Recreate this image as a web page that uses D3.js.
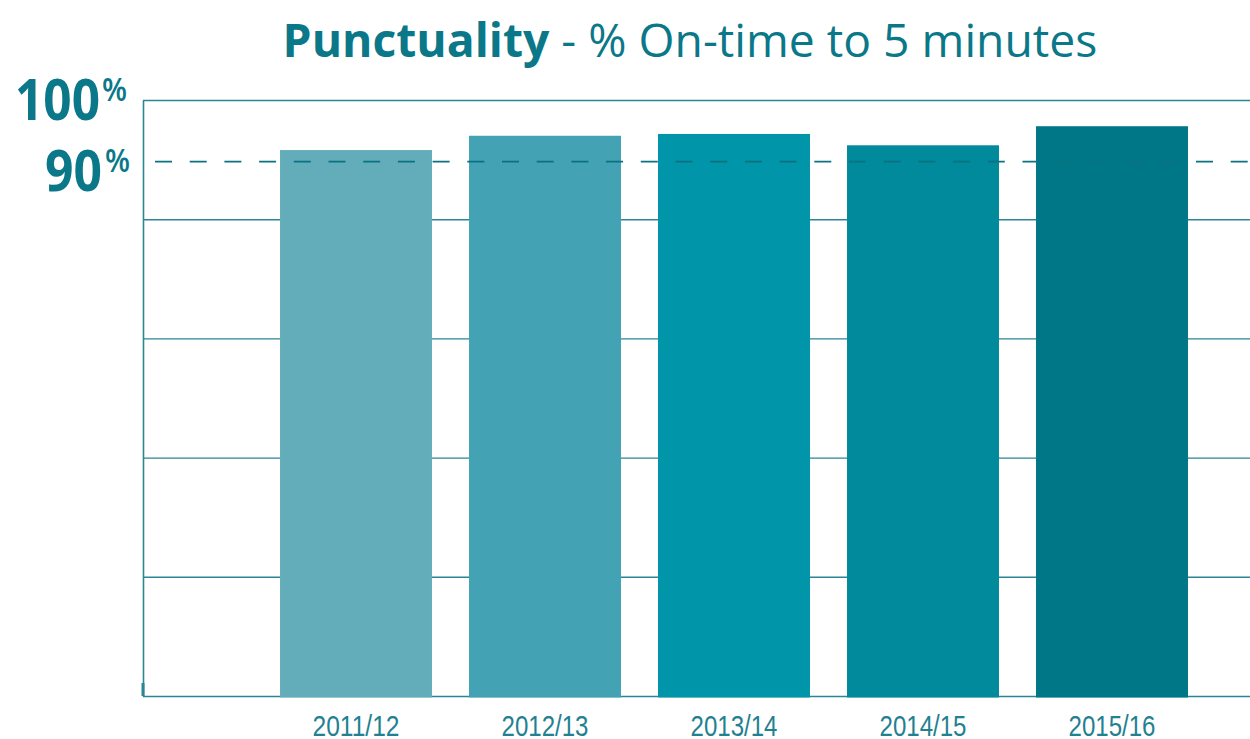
<!DOCTYPE html>
<html>
<head>
<meta charset="utf-8">
<script src="https://cdn.jsdelivr.net/npm/d3@7"></script>
<style>
  body { margin: 0; background: #fff; }
  svg { display: block; }
</style>
</head>
<body>
<div id="chart"></div>
<script>
const years = ['2011/12', '2012/13', '2013/14', '2014/15', '2015/16']
const punctuality = [91.6, 94.0, 94.3, 92.4, 95.6]
const barColors = ['#63adbb', '#43a2b3', '#0095a8', '#008a9b', '#007787']
const gridTicks = [0, 20, 40, 60, 80, 100]
const yLabels = [100, 90]
const targetLine = 90

const width = 1250
const height = 739
const teal = '#0a7888'

const svg = d3.select('#chart').append('svg').attr('width', width).attr('height', height)

// title, bold first word
const title = svg
  .append('text')
  .attr('x', 690)
  .attr('y', 57)
  .attr('text-anchor', 'middle')
  .attr('fill', teal)
  .style('font-family', '"Open Sans", sans-serif')
  .style('font-size', '46px')
title.append('tspan').style('font-weight', 'bold').text('Punctuality')
title.append('tspan').text(' - % On-time to 5 minutes')
// fit to reference width
const tw = title.node().getComputedTextLength()
title.style('font-size', 46 * (815 / tw) + 'px')

const margin = { left: 143 }
const g = svg.append('g').attr('transform', `translate(${margin.left},0)`)

const y = d3.scaleLinear().domain([0, 100]).range([696, 100])
const x = d3
  .scaleBand()
  .domain(years)
  .range([261.5 - margin.left, 1206.5 - margin.left])
  .paddingInner(0.196)
  .paddingOuter(0.098)

// gridlines + left axis
const yAxis = g
  .append('g')
  .call(
    d3
      .axisLeft(y)
      .tickValues(gridTicks)
      .tickSize(-(width - margin.left))
      .tickSizeOuter(0)
      .tickFormat(''),
  )
yAxis.selectAll('.tick line').attr('stroke', '#2b8595').attr('stroke-width', 1.4)
yAxis.select('.domain').attr('stroke', '#2b8595').attr('stroke-width', 1.6)

// small notch at bottom-left
g.append('line')
  .attr('x1', 0)
  .attr('x2', 0)
  .attr('y1', y(0) - 13)
  .attr('y2', y(0))
  .attr('stroke', '#2b8595')
  .attr('stroke-width', 3)

// bars
g.selectAll('.bar')
  .data(punctuality)
  .join('rect')
  .attr('class', 'bar')
  .attr('x', (d, i) => x(years[i]))
  .attr('width', x.bandwidth())
  .attr('y', (d) => y(d))
  .attr('height', (d) => y(0) + 1.5 - y(d))
  .attr('fill', (d, i) => barColors[i])

// 90% dashed target line
g.append('line')
  .attr('x1', 0)
  .attr('x2', width - margin.left)
  .attr('y1', y(targetLine) + 2)
  .attr('y2', y(targetLine) + 2)
  .attr('stroke', '#0b7281')
  .attr('stroke-width', 1.6)
  .attr('stroke-dasharray', '17 17.7')
  .attr('stroke-dashoffset', -12)

// x labels (narrow look)
const xAxis = g
  .append('g')
  .attr('transform', `translate(0,${y(0)})`)
  .call(d3.axisBottom(x).tickSize(0).tickPadding(0))
xAxis.select('.domain').remove()
xAxis
  .selectAll('text')
  .attr('y', 40)
  .attr('dy', 0)
  .attr('fill', '#1f8191')
  .attr('textLength', 87)
  .attr('lengthAdjust', 'spacingAndGlyphs')
  .style('font-family', '"Liberation Sans", Arial, sans-serif')
  .style('font-size', '30px')

// y labels (100%, 90%) with superscript %
svg
  .selectAll('.ylab')
  .data(yLabels)
  .join('text')
  .attr('class', 'ylab')
  .attr('x', (d) => (d === 100 ? 15 : 45))
  .attr('y', (d) => y(d) + (d === 100 ? 20 : 31))
  .attr('fill', teal)
  .attr('textLength', (d) => (d === 100 ? 85 : 57))
  .attr('lengthAdjust', 'spacingAndGlyphs')
  .style('font-family', '"Open Sans", sans-serif')
  .style('font-weight', 'bold')
  .style('font-size', '57px')
  .text((d) => d)

svg
  .selectAll('.ypct')
  .data(yLabels)
  .join('text')
  .attr('class', 'ypct')
  .attr('x', (d) => (d === 100 ? 102 : 105))
  .attr('y', (d) => y(d) + (d === 100 ? 1 : 12))
  .attr('fill', teal)
  .attr('textLength', 25)
  .attr('lengthAdjust', 'spacingAndGlyphs')
  .style('font-family', '"Open Sans", sans-serif')
  .style('font-weight', '600')
  .style('font-size', '32px')
  .text('%')
</script>
</body>
</html>
